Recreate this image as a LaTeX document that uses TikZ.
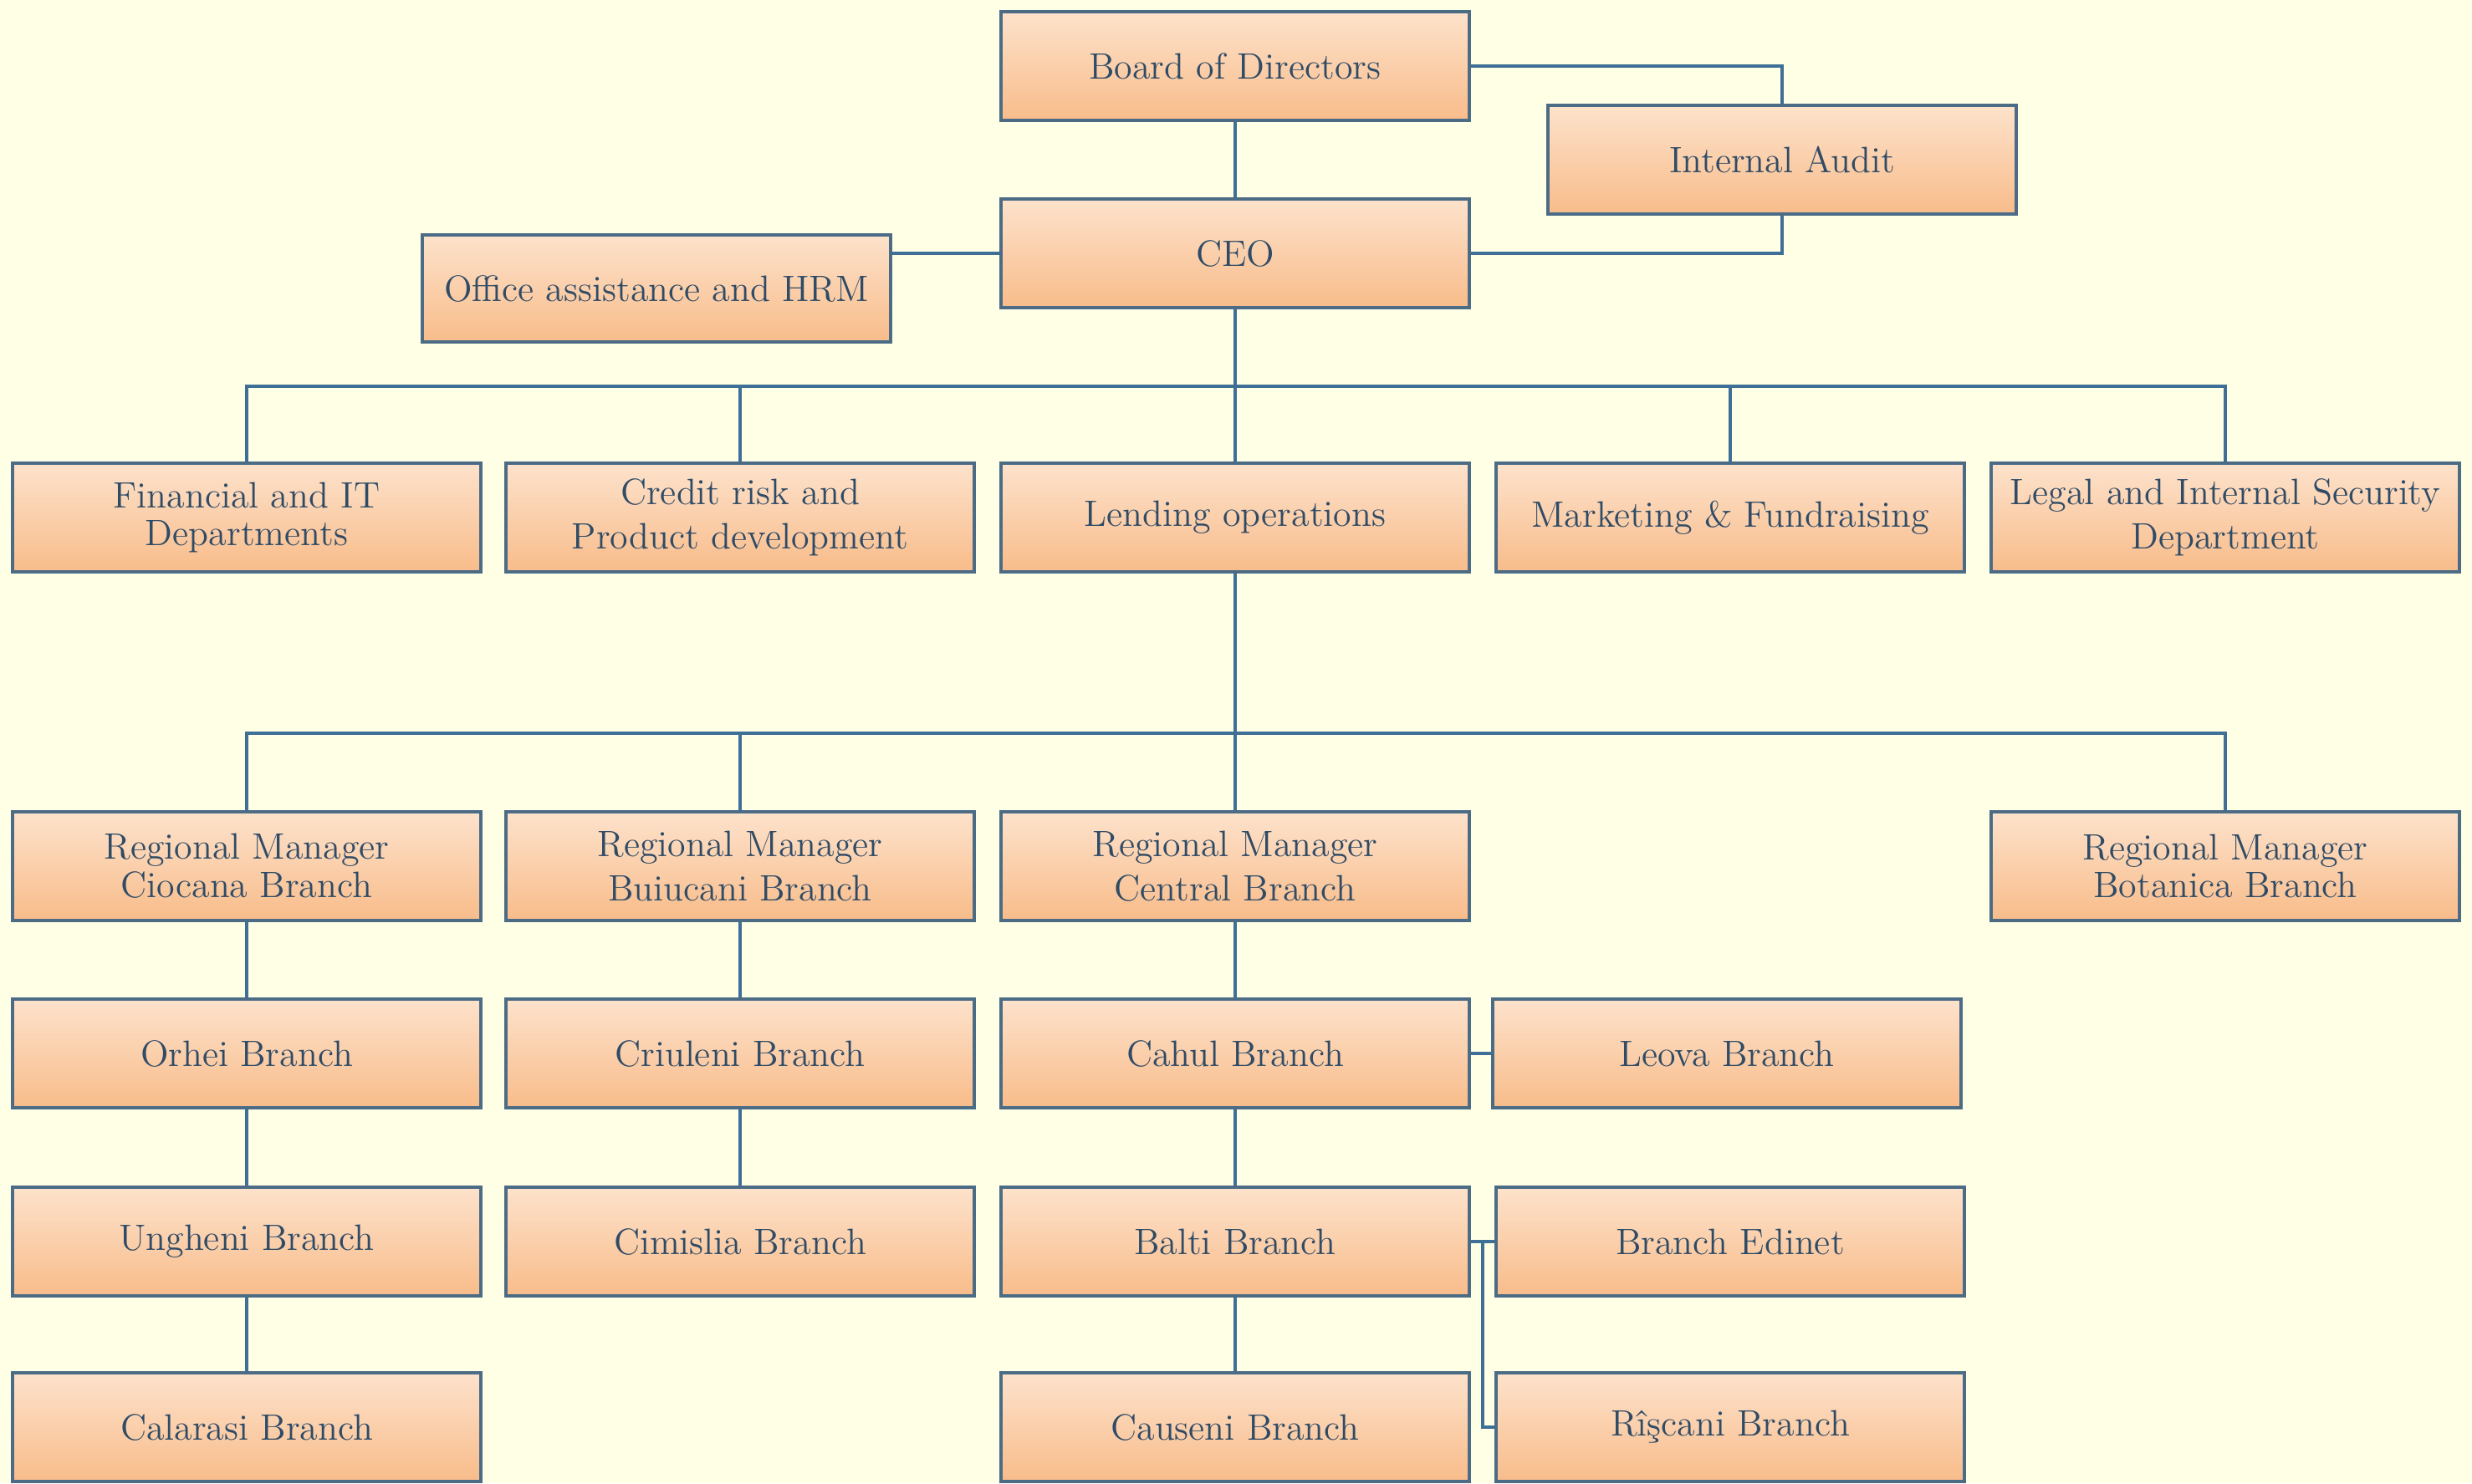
\documentclass[tikz,border=0pt]{standalone}
\usepackage{amsmath}
\usetikzlibrary{positioning}

\definecolor{bgcream}{HTML}{FFFFE6}
\definecolor{boxtop}{HTML}{FDE2CB}
\definecolor{boxbot}{HTML}{F8BC8A}
\definecolor{boxline}{HTML}{4C6C86}
\definecolor{wire}{HTML}{3E6F96}
\definecolor{ink}{HTML}{2F4B66}

\begin{document}
\begin{tikzpicture}[
    unit/.style={draw=boxline, line width=1.1pt, top color=boxtop, bottom color=boxbot,
      minimum width=5.6cm, minimum height=1.3cm, inner sep=0pt, align=center,
      text=ink, font=\fontsize{12.5}{13}\selectfont},
    wire/.style={draw=wire, line width=0.9pt}
  ]
  \useasboundingbox[fill=bgcream] (0,0) rectangle (29.56,-17.74);

  % top
  \node[unit] (board) at (14.77,-0.79) {Board of Directors};
  \node[unit] (audit) at (21.31,-1.91) {Internal Audit};
  \node[unit] (ceo) at (14.77,-3.03) {CEO};
  \node[unit, minimum height=1.28cm] (office) at (7.85,-3.45) {Office assistance and HRM};

  % departments
  \node[unit] (fin) at (2.95,-6.19) {Financial and IT\\Departments};
  \node[unit] (credit) at (8.85,-6.19) {Credit risk and\\[2pt]Product development};
  \node[unit] (lending) at (14.77,-6.19) {Lending operations};
  \node[unit] (mkt) at (20.69,-6.19) {Marketing \& Fundraising};
  \node[unit] (legal) at (26.61,-6.19) {Legal and Internal Security\\[2pt]Department};

  % regional managers
  \node[unit] (ciocana) at (2.95,-10.36) {Regional Manager\\Ciocana Branch};
  \node[unit] (buiucani) at (8.85,-10.36) {Regional Manager\\[2pt]Buiucani Branch};
  \node[unit] (central) at (14.77,-10.36) {Regional Manager\\[2pt]Central Branch};
  \node[unit] (botanica) at (26.61,-10.36) {Regional Manager\\Botanica Branch};

  % branches
  \node[unit] (orhei) at (2.95,-12.60) {Orhei Branch};
  \node[unit] (criuleni) at (8.85,-12.60) {Criuleni Branch};
  \node[unit] (cahul) at (14.77,-12.60) {Cahul Branch};
  \node[unit] (leova) at (20.65,-12.60) {Leova Branch};
  \node[unit] (ungheni) at (2.95,-14.85) {Ungheni Branch};
  \node[unit] (cimislia) at (8.85,-14.85) {Cimislia Branch};
  \node[unit] (balti) at (14.77,-14.85) {Balti Branch};
  \node[unit] (edinet) at (20.69,-14.85) {Branch Edinet};
  \node[unit] (calarasi) at (2.95,-17.07) {Calarasi Branch};
  \node[unit] (causeni) at (14.77,-17.07) {Causeni Branch};
  \node[unit] (riscani) at (20.69,-17.07) {Rî\c{s}cani Branch};

  \coordinate (bus1) at (14.77,-4.62);
  \coordinate (bus2) at (14.77,-8.77);
  \coordinate (fork) at (17.73,-14.85);

  % connectors
  \draw[wire] (board) -- (ceo);
  \draw[wire] (board.east) -| (audit.north);
  \draw[wire] (ceo.east) -| (audit.south);
  \draw[wire] (ceo.west) -- (office.east |- ceo.west);
  \draw[wire] (ceo) -- (lending);
  \draw[wire] (fin.north) |- (bus1) -| (legal.north);
  \foreach \d in {credit,mkt}
    \draw[wire] (\d.north) -- (\d.north |- bus1);
  \draw[wire] (lending) -- (central);
  \draw[wire] (ciocana.north) |- (bus2) -| (botanica.north);
  \draw[wire] (buiucani.north) -- (buiucani.north |- bus2);
  \draw[wire] (ciocana) -- (orhei) -- (ungheni) -- (calarasi);
  \draw[wire] (buiucani) -- (criuleni) -- (cimislia);
  \draw[wire] (central) -- (cahul) -- (balti) -- (causeni);
  \draw[wire] (cahul) -- (leova);
  \draw[wire] (balti.east) -- (edinet.west);
  \draw[wire] (fork) |- (riscani.west);
\end{tikzpicture}
\end{document}
